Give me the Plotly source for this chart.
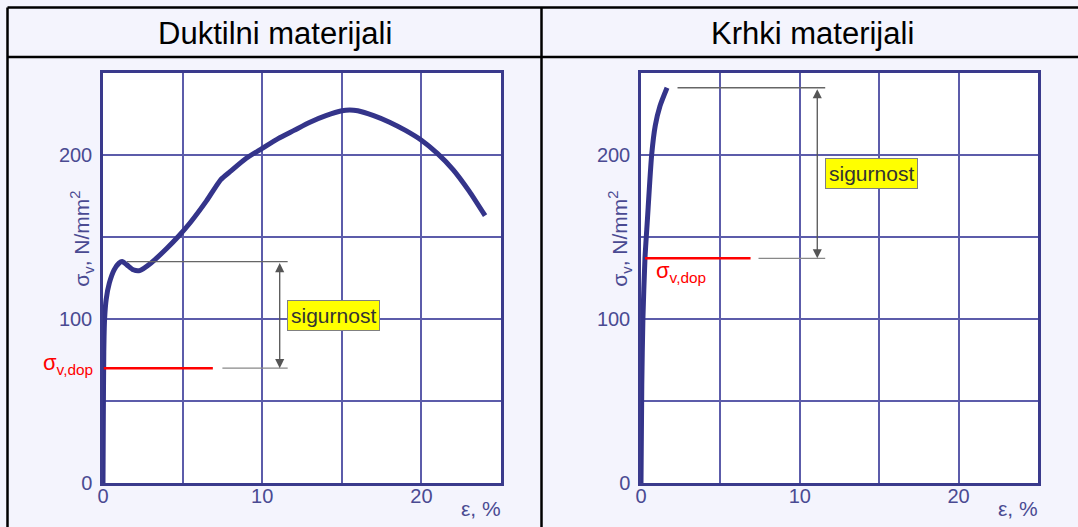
import plotly.graph_objects as go

# ---- data ----
duct_strain = [0, 0.02, 0.05, 0.1, 0.2, 0.4, 0.7, 1.0, 1.2, 1.5, 1.9, 2.3, 3.0, 4.0, 4.7, 5.5, 6.5, 7.4, 8.0, 9.0, 10, 11, 12, 13, 14, 15, 15.5, 16, 17, 18, 19, 20, 21, 22, 23, 24]
duct_stress = [0, 40, 80, 100, 112, 122, 130, 134, 135, 133, 130, 129.5, 134, 143, 150, 159, 172, 185, 190, 198, 204, 210, 215, 220, 224, 227, 227.5, 227, 224, 220, 215, 209, 201, 191, 178, 163]
brit_strain = [0, 0.05, 0.12, 0.25, 0.4, 0.67, 0.9, 1.2, 1.64]
brit_stress = [0, 60, 100, 137, 160, 200, 218, 230, 241]

duct_yield = 135
duct_allow = 70
brit_break = 241
brit_allow = 137

x_ticks = [0, 10, 20]
y_ticks = [0, 100, 200]
titles = ["Duktilni materijali", "Krhki materijali"]

W, H = 1078, 527
FONT = "Liberation Sans, Arial, sans-serif"
NAVY = "#34348a"
GRID = "#5c5caa"
LBL = "#4a4a92"

fig = go.Figure()

fig.add_trace(go.Scatter(x=duct_strain, y=duct_stress, mode="lines", line=dict(color=NAVY, width=5, shape="spline", smoothing=0.6), xaxis="x", yaxis="y", hoverinfo="skip"))
fig.add_trace(go.Scatter(x=brit_strain, y=brit_stress, mode="lines", line=dict(color=NAVY, width=5, shape="spline", smoothing=0.6), xaxis="x2", yaxis="y2", hoverinfo="skip"))

def hline(xa, ya, x0, x1, y, color, width):
    fig.add_trace(go.Scatter(x=[x0, x1], y=[y, y], mode="lines", line=dict(color=color, width=width), xaxis=xa, yaxis=ya, hoverinfo="skip"))

hline("x", "y", 1.5, 11.6, duct_yield, "#666666", 1.3)
hline("x", "y", 7.5, 11.6, duct_allow, "#888888", 1.3)
hline("x", "y", 0.05, 6.9, duct_allow, "#ff0000", 2.5)
hline("x2", "y2", 2.3, 11.6, brit_break, "#666666", 1.3)
hline("x2", "y2", 7.4, 11.6, brit_allow, "#888888", 1.3)
hline("x2", "y2", 0.25, 6.9, brit_allow, "#ff0000", 2.5)

pd_ = lambda px: px / W
pyd = lambda py: 1 - py / H

def axis(domain):
    return dict(domain=domain, range=[0, 25], tickvals=x_ticks, showgrid=True, gridcolor=GRID, gridwidth=1.5,
                minor=dict(dtick=5, showgrid=True, gridcolor=GRID, gridwidth=1.5),
                zeroline=False, showline=True, mirror=True, linecolor="#3a3a8c", linewidth=2.5,
                ticks="", ticklabelstandoff=-7, tickfont=dict(family=FONT, size=20, color=LBL), fixedrange=True)

def yaxis(domain, anchor):
    return dict(domain=domain, range=[0, 250], tickvals=y_ticks, showgrid=True, gridcolor=GRID, gridwidth=1.5,
                minor=dict(dtick=50, showgrid=True, gridcolor=GRID, gridwidth=1.5),
                zeroline=False, showline=True, mirror=True, linecolor="#3a3a8c", linewidth=2.5,
                ticks="", ticklabelstandoff=4, tickfont=dict(family=FONT, size=20, color=LBL), anchor=anchor, fixedrange=True)

ydom = [pyd(483), pyd(73)]
fig.update_layout(
    autosize=True, margin=dict(l=0, r=0, t=0, b=0, autoexpand=False),
    paper_bgcolor="#f4f4fd", plot_bgcolor="#ffffff", showlegend=False,
    xaxis=dict(axis([pd_(103), pd_(501)]), anchor="y"),
    yaxis=yaxis(ydom, "x"),
    xaxis2=dict(axis([pd_(641), pd_(1038)]), anchor="y2"),
    yaxis2=yaxis(ydom, "x2"),
)

ann = []
C = dict(xanchor="center", yanchor="middle", showarrow=False)
ann.append(dict(text=titles[0], x=pd_(275), y=pyd(33), xref="paper", yref="paper", font=dict(family=FONT, size=31, color="#000000"), **C))
ann.append(dict(text=titles[1], x=pd_(812), y=pyd(33), xref="paper", yref="paper", font=dict(family=FONT, size=31, color="#000000"), **C))

for xr, yr, ya_top, ya_bot, box_y, lab_x, lab_xs, lab_y, lab_ys in [
    ("x", "y", duct_yield, duct_allow, 102, 0, -35, duct_allow, 4),
    ("x2", "y2", brit_break, brit_allow, 189, 2.5, 0, brit_allow, -14),
]:
    ann.append(dict(text="σ<sub>v</sub>, N/mm<sup>2</sup>", x=0, xref=xr + " domain", xshift=-21, y=149, yref=yr,
                    textangle=-90, font=dict(family=FONT, size=21, color=LBL), **C))
    ann.append(dict(text="ε, %", x=23.75, xref=xr, y=0, yref=yr, yshift=-25,
                    font=dict(family=FONT, size=21, color=LBL), **C))
    ann.append(dict(x=11.1, y=ya_bot, ax=11.1, ay=ya_top, xref=xr, yref=yr, axref=xr, ayref=yr, text="",
                    showarrow=True, arrowhead=2, arrowside="end+start", arrowsize=1.4, arrowwidth=1.3, arrowcolor="#555555"))
    ann.append(dict(text="sigurnost", x=14.5, y=box_y, xref=xr, yref=yr,
                    bgcolor="#ffff00", bordercolor="#808080", borderwidth=1, borderpad=3,
                    font=dict(family=FONT, size=21, color="#333333"), **C))
    ann.append(dict(text="σ<sub>v,dop</sub>", x=lab_x, xref=xr, xshift=lab_xs, y=lab_y, yref=yr, yshift=lab_ys,
                    font=dict(family=FONT, size=22, color="#ff0000"), **C))

fig.update_layout(annotations=ann)

lw = 2.5
shapes = [
    dict(type="line", xref="paper", yref="paper", x0=pd_(7.5), x1=1.0, y0=pyd(7.5), y1=pyd(7.5)),
    dict(type="line", xref="paper", yref="paper", x0=pd_(7.5), x1=1.0, y0=pyd(57), y1=pyd(57)),
    dict(type="line", xref="paper", yref="paper", x0=pd_(7.5), x1=pd_(7.5), y0=pyd(7.5), y1=0.0),
    dict(type="line", xref="paper", yref="paper", x0=pd_(541.5), x1=pd_(541.5), y0=pyd(7.5), y1=0.0),
]
for s in shapes:
    s["line"] = dict(color="#000000", width=lw)
fig.update_layout(shapes=shapes)

post = (
    "document.documentElement.style.overflow='hidden';"
    "document.body.style.margin='0';document.body.style.overflow='hidden';"
    "var d=document.getElementById('{plot_id}');"
    "d.style.position='fixed';d.style.top='0px';d.style.left='0px';"
)
fig.write_html("out.html", config={"displayModeBar": False, "responsive": True},
               default_width="100vw", default_height="100vh", post_script=post)
